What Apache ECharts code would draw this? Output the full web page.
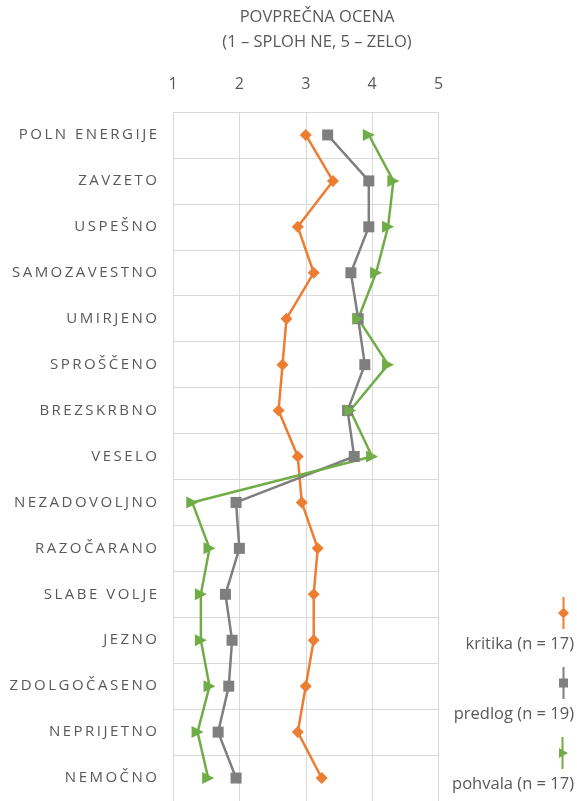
<!DOCTYPE html>
<html>
<head>
<meta charset="utf-8">
<script src="https://cdn.jsdelivr.net/npm/echarts@6/dist/echarts.min.js"></script>
<style>
  html, body { margin: 0; padding: 0; background: #fff; }
  #chart { width: 577px; height: 801px; }
</style>
</head>
<body>
<div id="chart"></div>
<script>
// kategorije (razpoloženja)
var categories = ['POLN ENERGIJE', 'ZAVZETO', 'USPEŠNO', 'SAMOZAVESTNO', 'UMIRJENO',
    'SPROŠČENO', 'BREZSKRBNO', 'VESELO', 'NEZADOVOLJNO', 'RAZOČARANO',
    'SLABE VOLJE', 'JEZNO', 'ZDOLGOČASENO', 'NEPRIJETNO', 'NEMOČNO'];
var seriesNames = ['kritika (n = 17)', 'predlog (n = 19)', 'pohvala (n = 17)'];
var kritika = [3.00, 3.41, 2.88, 3.12, 2.71, 2.65, 2.59, 2.88, 2.94, 3.18, 3.12, 3.12, 3.00, 2.88, 3.24];
var predlog = [3.33, 3.95, 3.95, 3.68, 3.79, 3.89, 3.63, 3.73, 1.95, 2.00, 1.79, 1.89, 1.84, 1.68, 1.95];
var pohvala = [3.95, 4.32, 4.24, 4.06, 3.79, 4.24, 3.67, 4.00, 1.29, 1.55, 1.42, 1.42, 1.55, 1.37, 1.53];
var xTicks = [1, 2, 3, 4, 5];

var textColor = '#595959';
var gridColor = '#D9D9D9';
var font = "'Open Sans', sans-serif";
var colors = ['#ED7D31', '#7F7F7F', '#70AD47'];

// ikone legende: navpična črta z oznako
var icons = [
    'path://M4.5,0L6.5,0L6.5,11.5L11,16L6.5,20.5L6.5,32L4.5,32L4.5,20.5L0,16L4.5,11.5Z',
    'path://M4.5,0L6.5,0L6.5,11.5L10,11.5L10,20.5L6.5,20.5L6.5,32L4.5,32L4.5,20.5L1,20.5L1,11.5L4.5,11.5Z',
    'path://M4.5,0L6.5,0L6.5,13.5L11,16L6.5,18.5L6.5,32L4.5,32L4.5,19.6L2,21L2,11L4.5,12.4Z'
];

function mkSeries(name, data, color, symbol, size, rotate) {
    return {
        name: name,
        type: 'line',
        data: data,
        symbol: symbol,
        symbolSize: size,
        symbolRotate: rotate,
        showAllSymbol: true,
        lineStyle: {color: color, width: 2.5},
        itemStyle: {color: color, borderWidth: 0},
        emphasis: {disabled: true},
        z: 3
    };
}

var option = {
    backgroundColor: '#fff',
    animation: false,
    textStyle: {fontFamily: font},
    title: {
        text: 'POVPREČNA OCENA\n(1 – SPLOH NE, 5 – ZELO)',
        left: 312,
        top: 0,
        textAlign: 'center',
        textStyle: {
            color: textColor,
            fontFamily: font,
            fontSize: 16.5,
            fontWeight: 'normal',
            lineHeight: 25
        }
    },
    legend: [{
        orient: 'vertical',
        right: 8,
        top: 597,
        padding: 0,
        align: 'right',
        itemWidth: 11,
        itemHeight: 32,
        itemGap: 38,
        selectedMode: false,
        itemStyle: {borderWidth: 0},
        data: seriesNames.map(function (n, i) { return {name: n, icon: icons[i]}; }),
        formatter: function () { return ''; }
    }, {
        orient: 'vertical',
        right: -10,
        top: 634,
        padding: 0,
        align: 'right',
        itemWidth: 0,
        itemHeight: 20,
        itemGap: 50,
        selectedMode: false,
        itemStyle: {opacity: 0},
        data: seriesNames,
        textStyle: {color: textColor, fontFamily: font, fontSize: 16.5, lineHeight: 20}
    }],
    grid: {
        left: 173,
        right: 138.5,
        top: 112,
        height: 692,
        containLabel: false
    },
    xAxis: {
        type: 'value',
        position: 'top',
        min: xTicks[0],
        max: xTicks[xTicks.length - 1],
        interval: 1,
        axisLine: {show: false},
        axisTick: {show: false},
        axisLabel: {color: textColor, fontFamily: font, fontSize: 16, margin: 20},
        splitLine: {show: true, lineStyle: {color: gridColor, width: 1}}
    },
    yAxis: {
        type: 'category',
        inverse: true,
        data: categories,
        axisLine: {show: false},
        axisTick: {show: false},
        axisLabel: {
            color: textColor,
            fontFamily: font,
            fontSize: 15,
            margin: 16,
            // razmik med črkami
            formatter: function (v) { return v.split('').join('\u2009'); }
        },
        splitLine: {show: true, lineStyle: {color: gridColor, width: 1}}
    },
    series: [
        mkSeries(seriesNames[0], kritika, colors[0], 'diamond', 12, 0),
        mkSeries(seriesNames[1], predlog, colors[1], 'rect', 11, 0),
        mkSeries(seriesNames[2], pohvala, colors[2], 'triangle', 12, -90)
    ]
};

var myChart = echarts.init(document.getElementById('chart'));
myChart.setOption(option);
</script>
</body>
</html>
